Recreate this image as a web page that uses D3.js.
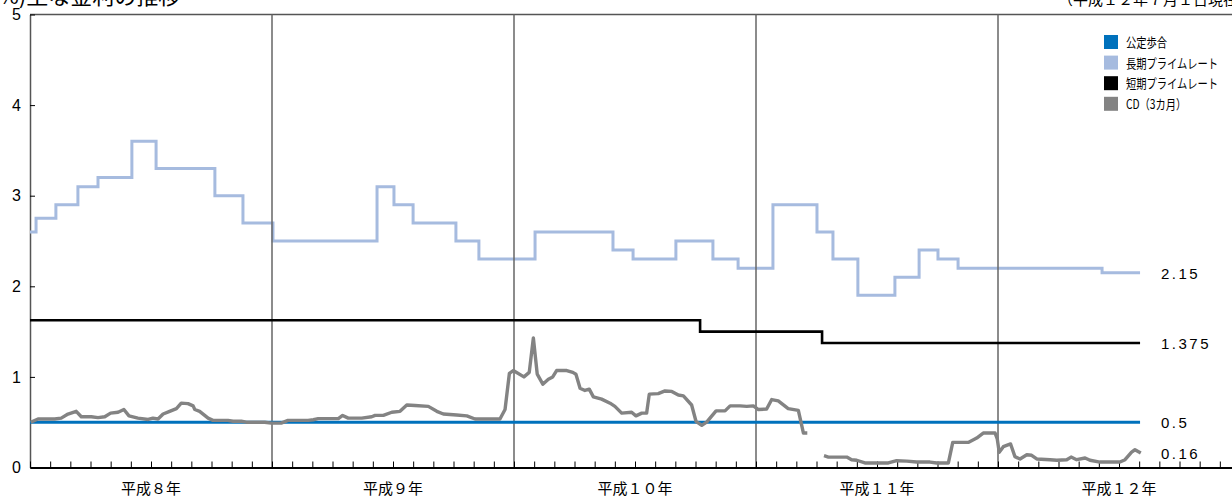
<!DOCTYPE html>
<html>
<head>
<meta charset="utf-8">
<script src="https://cdn.jsdelivr.net/npm/d3@7"></script>
<style>
  body { margin: 0; background: #fff; }
  svg { display: block; font-family: "Liberation Sans", Arial, "Noto Sans CJK JP", sans-serif; }
  .jp { font-family: "Noto Sans CJK JP", sans-serif; }
  .num { font-family: "Liberation Sans", Arial, sans-serif; }
</style>
</head>
<body>
<div id="chart"></div>
<script>
// values; time as fractional year (1996 = 平成8年)
var yTicks = [0, 1, 2, 3, 4, 5];
var yearStarts = [1996, 1997, 1998, 1999, 2000];
var yearLabels = ["平成８年", "平成９年", "平成１０年", "平成１１年", "平成１２年"];
var legendNames = ["公定歩合", "長期プライムレート", "短期プライムレート", "CD（3カ月）"];
var legendColors = ["#0071bc", "#a6bbdf", "#000000", "#838383"];

var discountRate = [[1996.000, 0.5], [2000.587, 0.5]];

var longPrime = [
    [1996.000, 2.6], [1996.025, 2.75], [1996.107, 2.9], [1996.198, 3.1], [1996.281, 3.2],
    [1996.421, 3.6], [1996.521, 3.3], [1996.764, 3.0], [1996.880, 2.7], [1997.004, 2.5],
    [1997.434, 3.1], [1997.504, 2.9], [1997.583, 2.7], [1997.760, 2.5], [1997.855, 2.3],
    [1998.087, 2.6], [1998.409, 2.4], [1998.492, 2.3], [1998.669, 2.5], [1998.822, 2.3],
    [1998.926, 2.2], [1999.070, 2.9], [1999.252, 2.6], [1999.318, 2.3], [1999.421, 1.9],
    [1999.574, 2.1], [1999.674, 2.4], [1999.752, 2.3], [1999.835, 2.2], [2000.430, 2.15],
    [2000.587, 2.15]
];

var shortPrime = [[1996.000, 1.625], [1998.769, 1.5], [1999.273, 1.375], [2000.587, 1.375]];

var cdRate = [
    [1996.003, 0.50], [1996.033, 0.535], [1996.102, 0.535], [1996.129, 0.545], [1996.157, 0.59],
    [1996.191, 0.62], [1996.212, 0.56], [1996.253, 0.56], [1996.281, 0.55], [1996.309, 0.56],
    [1996.333, 0.60], [1996.364, 0.61], [1996.388, 0.64], [1996.409, 0.57], [1996.446, 0.545],
    [1996.488, 0.53], [1996.508, 0.545], [1996.529, 0.535], [1996.550, 0.59], [1996.577, 0.62],
    [1996.605, 0.65], [1996.625, 0.71], [1996.653, 0.705], [1996.674, 0.68], [1996.681, 0.64],
    [1996.701, 0.62], [1996.736, 0.545], [1996.756, 0.52], [1996.818, 0.52], [1996.839, 0.51],
    [1996.873, 0.51], [1996.894, 0.50], [1996.970, 0.50], [1996.997, 0.49], [1997.038, 0.49],
    [1997.066, 0.52], [1997.149, 0.52], [1997.171, 0.527], [1997.191, 0.54], [1997.274, 0.54],
    [1997.292, 0.575], [1997.315, 0.545], [1997.371, 0.545], [1997.412, 0.56], [1997.426, 0.575],
    [1997.460, 0.575], [1997.495, 0.61], [1997.529, 0.62], [1997.557, 0.69], [1997.591, 0.685],
    [1997.646, 0.675], [1997.681, 0.62], [1997.708, 0.59], [1997.763, 0.58], [1997.805, 0.57],
    [1997.839, 0.535], [1997.942, 0.535], [1997.963, 0.64], [1997.981, 1.04], [1997.997, 1.07],
    [1998.041, 1.00], [1998.063, 1.05], [1998.080, 1.43], [1998.096, 1.03], [1998.119, 0.92],
    [1998.142, 0.975], [1998.160, 1.00], [1998.176, 1.07], [1998.218, 1.07], [1998.243, 1.05],
    [1998.256, 1.03], [1998.273, 0.875], [1998.293, 0.85], [1998.311, 0.865], [1998.328, 0.78],
    [1998.362, 0.755], [1998.397, 0.71], [1998.417, 0.675], [1998.445, 0.60], [1998.486, 0.61],
    [1998.504, 0.57], [1998.528, 0.60], [1998.548, 0.60], [1998.559, 0.81], [1998.596, 0.815],
    [1998.624, 0.845], [1998.652, 0.84], [1998.679, 0.80], [1998.700, 0.79], [1998.734, 0.69],
    [1998.752, 0.51], [1998.776, 0.465], [1998.796, 0.50], [1998.835, 0.625], [1998.872, 0.625],
    [1998.893, 0.68], [1998.934, 0.68], [1998.962, 0.675], [1998.989, 0.68], [1999.010, 0.64],
    [1999.044, 0.645], [1999.065, 0.75], [1999.092, 0.735], [1999.133, 0.65], [1999.175, 0.63],
    [1999.196, 0.38], [1999.212, 0.38], [1999.245, null],
    [1999.281, 0.13], [1999.299, 0.115], [1999.375, 0.115], [1999.395, 0.086], [1999.416, 0.08],
    [1999.450, 0.05], [1999.547, 0.05], [1999.581, 0.075], [1999.623, 0.07], [1999.664, 0.06],
    [1999.719, 0.06], [1999.747, 0.05], [1999.795, 0.05], [1999.813, 0.277], [1999.877, 0.277],
    [1999.912, 0.325], [1999.939, 0.38], [1999.988, 0.38], [1999.997, 0.315], [2000.005, 0.167],
    [2000.022, 0.23], [2000.052, 0.26], [2000.070, 0.12], [2000.091, 0.094], [2000.119, 0.14],
    [2000.139, 0.135], [2000.160, 0.094], [2000.215, 0.086], [2000.243, 0.08], [2000.284, 0.086],
    [2000.302, 0.115], [2000.325, 0.086], [2000.360, 0.105], [2000.380, 0.08], [2000.421, 0.06],
    [2000.504, 0.06], [2000.525, 0.086], [2000.552, 0.17], [2000.566, 0.196], [2000.590, 0.16]
];

var endLabels = [2.15, 1.375, 0.5, 0.16];
var endLabelTexts = ["2.15", "1.375", "0.5", "0.16"];

var svgWidth = 1232, svgHeight = 498;

var svg = d3.select("#chart")
    .append("svg")
    .attr("width", svgWidth)
    .attr("height", svgHeight);

var x = d3.scaleLinear().domain([1996, 2001]).range([30, 1240]);
var y = d3.scaleLinear().domain([0, 5]).range([467.5, 14.5]);

// title lines (cut off at the top of the picture)
svg.append("text")
    .attr("class", "jp")
    .attr("x", -9)
    .attr("y", 4)
    .style("font-size", "22px")
    .text("(%)主な金利の推移");

svg.append("text")
    .attr("class", "jp")
    .attr("x", 1058)
    .attr("y", 5)
    .style("font-size", "15px")
    .text("（平成１２年７月１日現在）");

// top frame line
svg.append("line")
    .attr("x1", x(1996)).attr("x2", x(2001))
    .attr("y1", y(5)).attr("y2", y(5))
    .style("stroke", "#555")
    .style("stroke-width", 1.3);

// y axis
var yAxis = svg.append("g")
    .attr("transform", "translate(" + x(1996) + ",0)")
    .call(d3.axisLeft(y).tickValues(yTicks).tickFormat(d3.format("d"))
        .tickSize(-5).tickSizeOuter(0).tickPadding(9));
yAxis.select(".domain").style("stroke", "#555").style("stroke-width", 1.5);
yAxis.selectAll(".tick line").style("stroke", "#000");
yAxis.selectAll("text").style("font-size", "16px").style("fill", "#000")
    .style("font-family", "'Liberation Sans', Arial, sans-serif");

// long-term prime drawn under the year lines
var line = d3.line().x(d => x(d[0])).y(d => y(d[1]));
var stepLine = d3.line().x(d => x(d[0])).y(d => y(d[1])).curve(d3.curveStepAfter);

svg.append("path")
    .datum(longPrime)
    .attr("d", stepLine)
    .style("fill", "none")
    .style("stroke", legendColors[1])
    .style("stroke-width", 3);

// year separators
svg.selectAll(".year-line")
    .data(yearStarts.slice(1))
    .enter().append("line")
    .attr("class", "year-line")
    .attr("x1", d => x(d)).attr("x2", d => x(d))
    .attr("y1", y(5)).attr("y2", y(0))
    .style("stroke", "#666")
    .style("stroke-width", 1.5);

// x axis with monthly ticks
var months = d3.range(0, 60).map(i => 1996 + i / 12);
var xAxis = svg.append("g")
    .attr("transform", "translate(0," + y(0) + ")")
    .call(d3.axisBottom(x).tickValues(months).tickSize(-6).tickSizeOuter(0).tickFormat(""));
xAxis.select(".domain").style("stroke", "#000").style("stroke-width", 2);
xAxis.selectAll(".tick line").style("stroke", "#000");

svg.selectAll(".year-label")
    .data(yearLabels)
    .enter().append("text")
    .attr("class", "year-label jp")
    .attr("x", (d, i) => x(yearStarts[i] + 0.5))
    .attr("y", 494)
    .attr("text-anchor", "middle")
    .style("font-size", "15px")
    .text(d => d);

// short-term prime, discount rate, CD
svg.append("path")
    .datum(shortPrime)
    .attr("d", stepLine)
    .style("fill", "none")
    .style("stroke", legendColors[2])
    .style("stroke-width", 2.6);

svg.append("path")
    .datum(discountRate)
    .attr("d", line)
    .style("fill", "none")
    .style("stroke", legendColors[0])
    .style("stroke-width", 3);

svg.append("path")
    .datum(cdRate)
    .attr("d", d3.line().defined(d => d[1] != null).x(d => x(d[0])).y(d => y(d[1])))
    .style("fill", "none")
    .style("stroke", legendColors[3])
    .style("stroke-width", 3.4)
    .style("stroke-linejoin", "round");

// values at the right end
svg.selectAll(".end-label")
    .data(endLabels)
    .enter().append("text")
    .attr("class", "end-label num")
    .attr("x", 1161)
    .attr("y", d => y(d) + 6)
    .style("font-size", "15px")
    .style("letter-spacing", "2.5px")
    .text((d, i) => endLabelTexts[i]);

// legend
var legend = svg.append("g").attr("transform", "translate(1104,35)");
var items = legend.selectAll(".item")
    .data(legendNames)
    .enter().append("g")
    .attr("class", "item")
    .attr("transform", (d, i) => "translate(0," + i * 20.6 + ")");
items.append("rect")
    .attr("width", 14).attr("height", 14)
    .style("fill", (d, i) => legendColors[i]);
items.append("text")
    .attr("class", "jp")
    .attr("transform", "translate(22,12) scale(0.79,1)")
    .style("font-size", "13px")
    .text(d => d);
</script>
</body>
</html>
